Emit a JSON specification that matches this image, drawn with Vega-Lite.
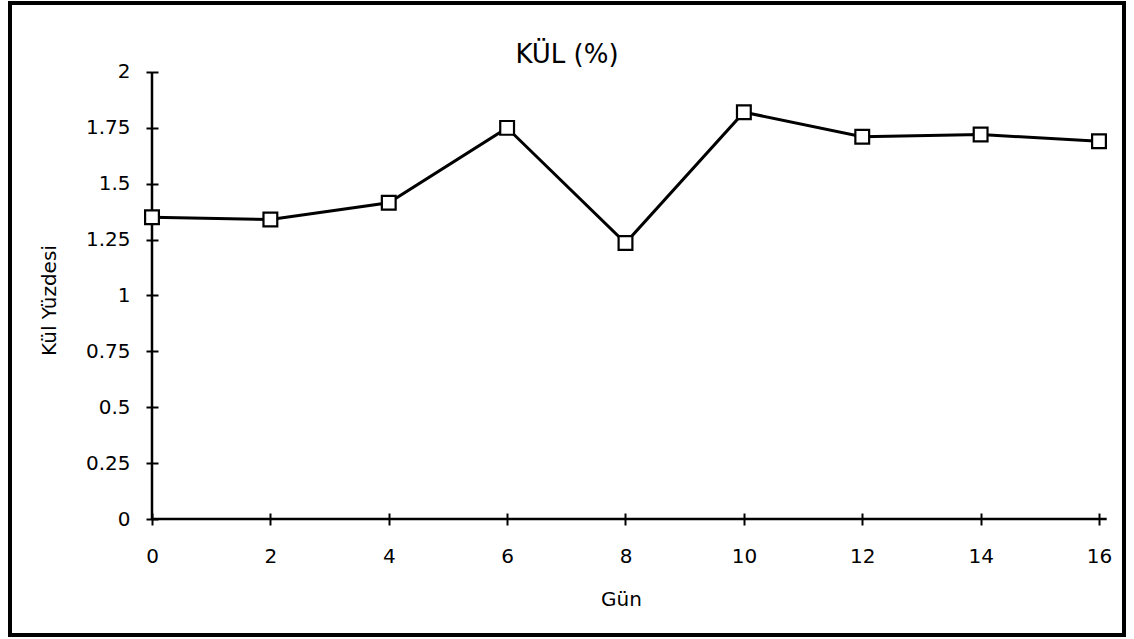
{
  "$schema": "https://vega.github.io/schema/vega-lite/v6.json",
  "width": 1114,
  "height": 632,
  "autosize": {"type": "none"},
  "padding": {"left": 10, "top": 3, "right": 10, "bottom": 4},
  "background": "white",
  "config": {
    "view": {"stroke": "black", "strokeWidth": 4},
    "font": "DejaVu Sans"
  },
  "title": {
    "text": "KÜL (%)",
    "fontSize": 26,
    "fontWeight": "normal",
    "font": "DejaVu Sans",
    "color": "black",
    "anchor": "middle",
    "frame": "group",
    "baseline": "bottom",
    "offset": -91
  },
  "datasets": {
    "ash": [
      {"gun": 0, "kul": 1.35},
      {"gun": 2, "kul": 1.34},
      {"gun": 4, "kul": 1.415},
      {"gun": 6, "kul": 1.75},
      {"gun": 8, "kul": 1.235},
      {"gun": 10, "kul": 1.82},
      {"gun": 12, "kul": 1.71},
      {"gun": 14, "kul": 1.72},
      {"gun": 16, "kul": 1.69}
    ],
    "axes": [
      {"x": 0, "y": 0, "x2": 16.13, "y2": 0},
      {"x": 0, "y": 0, "x2": 0, "y2": 2}
    ]
  },
  "layer": [
    {
      "data": {"name": "axes"},
      "mark": {"type": "rule", "color": "black", "strokeWidth": 2.5},
      "encoding": {
        "x": {
          "field": "x", "type": "quantitative",
          "scale": {"domain": [-2.3991, 16.4224], "nice": false, "zero": false},
          "axis": {"orient": "bottom", "values": [0, 2, 4, 6, 8, 10, 12, 14, 16], "labels": false, "domain": false, "grid": false, "tickSize": -6, "tickWidth": 2, "tickColor": "black", "title": null, "offset": -116}
        },
        "x2": {"field": "x2"},
        "y": {
          "field": "y", "type": "quantitative",
          "scale": {"domain": [-0.519, 2.3087], "nice": false, "zero": false},
          "axis": {"orient": "left", "values": [0, 0.25, 0.5, 0.75, 1, 1.25, 1.5, 1.75, 2], "labels": false, "domain": false, "grid": false, "tickSize": -6, "tickWidth": 2, "tickColor": "black", "title": null, "offset": -142}
        },
        "y2": {"field": "y2"}
      }
    },
    {
      "data": {"name": "ash"},
      "encoding": {
        "x": {
          "field": "gun", "type": "quantitative",
          "scale": {"domain": [-2.3991, 16.4224], "nice": false, "zero": false},
          "axis": {
            "orient": "bottom",
            "values": [0, 2, 4, 6, 8, 10, 12, 14, 16],
            "format": "d",
            "domain": false, "grid": false,
            "tickSize": 6, "tickWidth": 2, "tickColor": "black",
            "labelFont": "DejaVu Sans", "labelFontSize": 20, "labelColor": "black",
            "labelPadding": 21, "labelFlush": false, "labelOverlap": false, "labelBound": false,
            "offset": -116,
            "title": "Gün",
            "titleFont": "DejaVu Sans", "titleFontSize": 20, "titleFontWeight": "normal", "titleColor": "black",
            "titleX": 611, "titleY": 80, "titleBaseline": "middle", "titleAlign": "center"
          }
        },
        "y": {
          "field": "kul", "type": "quantitative",
          "scale": {"domain": [-0.519, 2.3087], "nice": false, "zero": false},
          "axis": {
            "orient": "left",
            "values": [0, 0.25, 0.5, 0.75, 1, 1.25, 1.5, 1.75, 2],
            "format": ".3~g",
            "domain": false, "grid": false,
            "tickSize": 6, "tickWidth": 2, "tickColor": "black",
            "labelFont": "DejaVu Sans", "labelFontSize": 20, "labelColor": "black",
            "labelPadding": 16, "labelFlush": false, "labelOverlap": false, "labelBound": false,
            "offset": -142,
            "title": "Kül Yüzdesi",
            "titleFont": "DejaVu Sans", "titleFontSize": 20, "titleFontWeight": "normal", "titleColor": "black",
            "titleX": -103, "titleY": 297, "titleAngle": 270, "titleBaseline": "middle", "titleAlign": "center"
          }
        }
      },
      "layer": [
        {"mark": {"type": "line", "color": "black", "strokeWidth": 3}},
        {"mark": {"type": "point", "shape": "square", "size": 190, "filled": true, "fill": "white", "stroke": "black", "strokeWidth": 2.2, "opacity": 1}}
      ]
    }
  ],
  "resolve": {"scale": {"x": "independent", "y": "independent"}, "axis": {"x": "independent", "y": "independent"}}
}
